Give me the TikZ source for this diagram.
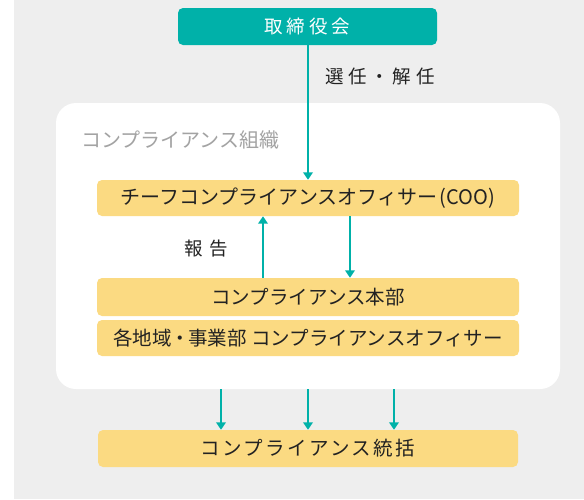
\documentclass[tikz,border=0pt]{standalone}
\usepackage{fontspec}
\setmainfont{Noto Sans CJK JP}
\newfontfamily\trackfont[LetterSpace=12]{Noto Sans CJK JP}
\usetikzlibrary{arrows.meta}
\definecolor{teal1}{HTML}{00B1A9}
\definecolor{yell}{HTML}{FBDA82}
\definecolor{bgg}{HTML}{EEEEEE}
\definecolor{titleg}{HTML}{A3A3A3}
\definecolor{txt}{HTML}{222222}
\begin{document}
\begin{tikzpicture}[x=1pt,y=-1pt,
  ybox/.style={fill=yell, rounded corners=5pt, inner sep=0pt, text=txt, font=\fontsize{19.5}{21}\selectfont},
  arr/.style={draw=teal1, line width=2.5pt, -{Triangle[width=9.5pt,length=7.5pt]}},
  lbl/.style={text=txt, inner sep=0pt, font=\fontsize{18.5}{20}\selectfont}]
\useasboundingbox (0,0) rectangle (584,499);
\fill[white] (0,0) rectangle (584,499);
\fill[bgg] (14,0) rectangle (584,499);
% panel
\node[fill=white, rounded corners=20pt, minimum width=504pt, minimum height=286pt, inner sep=0pt] (panel) at (308,246) {};
\node[anchor=west, text=titleg, inner sep=0pt, font=\fontsize{20}{21}\selectfont] (title) at (81,140) {コンプライアンス組織};
% board
\node[fill=teal1, rounded corners=5pt, minimum width=259pt, minimum height=37pt, inner sep=0pt, text=white, font=\fontsize{18.5}{20}\selectfont] (board) at (307.5,26.5) {取\kern4pt 締\kern4pt 役\kern4pt 会};
\node[lbl] (sennin) at (380,76) {選\kern5pt 任\kern3.5pt ・\kern3.5pt 解\kern5pt 任};
% boxes
\node[ybox, minimum width=422pt, minimum height=36pt, font=\fontsize{20}{21}\selectfont] (coo) at (308,198) {チーフコンプライアンスオフィサー\kern2.5pt(COO)};
\node[ybox, minimum width=422pt, minimum height=38pt] (honbu) at (308,297) {コンプライアンス本部};
\node[ybox, minimum width=422pt, minimum height=36pt] (region) at (308,338) {各地域\kern-1.5pt ・\kern-1.5pt 事業部 コンプライアンスオフィサー};
\node[ybox, minimum width=420pt, minimum height=37pt, font=\fontsize{19.5}{21}\trackfont] (bottom) at (308,448.5) {コンプライアンス統括};
\node[lbl] (houkoku) at (206,249) {報\kern7pt 告};
% coordinates
\coordinate (xa) at (263,0);
\coordinate (xb) at (350,0);
\coordinate (x1) at (221,0);
\coordinate (x2) at (308,0);
\coordinate (x3) at (394,0);
% arrows
\draw[arr] (board.south -| x2) -- (coo.north -| x2);
\draw[arr] (honbu.north -| xa) -- (coo.south -| xa);
\draw[arr] (coo.south -| xb) -- (honbu.north -| xb);
\draw[arr] (panel.south -| x1) -- (bottom.north -| x1);
\draw[arr] (panel.south -| x2) -- (bottom.north -| x2);
\draw[arr] (panel.south -| x3) -- (bottom.north -| x3);
\end{tikzpicture}
\end{document}
